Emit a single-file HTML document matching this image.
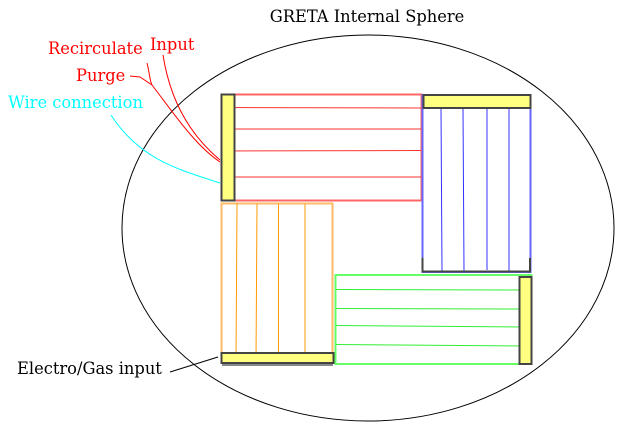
<!DOCTYPE html>
<html><head><style>body{margin:0;background:#fff}svg{display:block}text{font-family:"DejaVu Serif","Liberation Serif",serif;font-size:16.3px}</style></head>
<body>
<svg width="618" height="430" viewBox="0 0 618 430" xmlns="http://www.w3.org/2000/svg">
<ellipse cx="368" cy="228" rx="246" ry="193" fill="none" stroke="#000" stroke-width="1"/>
<text x="367" y="22" text-anchor="middle" fill="#000">GRETA Internal Sphere</text>
<text x="48" y="54" fill="#f00">Recirculate</text>
<text x="150" y="50" fill="#f00">Input</text>
<text x="76" y="81" fill="#f00">Purge</text>
<text x="8" y="108" fill="#0ff">Wire connection</text>
<text x="17" y="374" fill="#000">Electro/Gas input</text>
<path d="M163,55 C170,100 190,135 220,160" fill="none" stroke="#f00"/>
<path d="M147,63 C150,75 150,82 152,85 C175,115 195,145 220,162" fill="none" stroke="#f00"/>
<path d="M130,76 L140,77 L152,85" fill="none" stroke="#f00"/>
<path d="M111,115 C140,160 180,170 220,183" fill="none" stroke="#0ff"/>
<path d="M170,372 L218,357" stroke="#000"/>
<!-- red box -->
<rect x="221.5" y="94.5" width="200" height="106" fill="none" stroke="#f66" stroke-width="2"/>
<g stroke="#f33"><line x1="222" y1="107.5" x2="421" y2="108"/><line x1="222" y1="129" x2="421" y2="129"/><line x1="222" y1="151" x2="421" y2="150.5"/><line x1="222" y1="177" x2="421" y2="177"/></g>
<rect x="221.5" y="94.5" width="13" height="106" fill="#ffff80" stroke="#444" stroke-width="2"/>
<!-- blue box -->
<rect x="422.5" y="95" width="108" height="177" fill="none" stroke="#66f" stroke-width="2"/>
<g stroke="#33f"><line x1="441" y1="108" x2="442" y2="271"/><line x1="463" y1="108" x2="464" y2="271"/><line x1="487" y1="108" x2="487" y2="270"/><line x1="509" y1="108" x2="509" y2="271"/></g>
<rect x="423.5" y="95" width="107" height="13" fill="#ffff80" stroke="#444" stroke-width="2"/>
<path d="M422.5,258 V271.5 H530 V258" fill="none" stroke="#444" stroke-width="2"/>
<!-- orange box -->
<rect x="221.5" y="203.5" width="111" height="159" fill="none" stroke="#fb6" stroke-width="2"/>
<g stroke="#f90"><line x1="237" y1="204" x2="236" y2="362"/><line x1="257" y1="204" x2="256" y2="362"/><line x1="278.5" y1="204" x2="278.5" y2="360"/><line x1="305" y1="204" x2="305" y2="358"/></g>
<rect x="221.5" y="353" width="112" height="10" fill="#ffff80" stroke="#444" stroke-width="2"/>
<line x1="222" y1="365" x2="333" y2="365" stroke="#888" stroke-width="2"/>
<!-- green box -->
<rect x="335.5" y="275" width="196" height="89" fill="none" stroke="#6f6" stroke-width="2"/>
<g stroke="#3e3"><line x1="336" y1="289.5" x2="530" y2="290"/><line x1="336" y1="308.5" x2="530" y2="309"/><line x1="336" y1="325.5" x2="528" y2="327"/><line x1="336" y1="344.5" x2="528" y2="346"/></g>
<rect x="519.5" y="277" width="12" height="87" fill="#ffff80" stroke="#444" stroke-width="2"/>
</svg>
</body></html>
